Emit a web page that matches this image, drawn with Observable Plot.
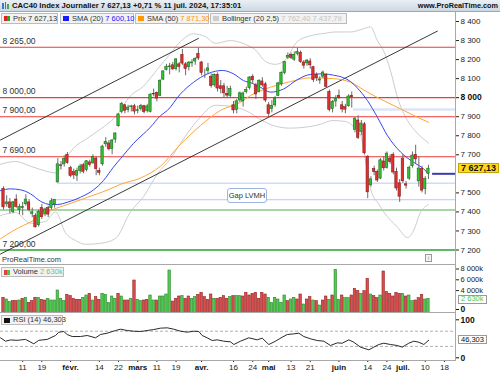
<!DOCTYPE html>
<html lang="fr"><head><meta charset="utf-8">
<script src="https://cdn.jsdelivr.net/npm/d3@7"></script>
<script src="https://cdn.jsdelivr.net/npm/@observablehq/plot@0.6"></script>
<style>
html,body{margin:0;padding:0;background:#fff;}
#root{position:relative;width:500px;height:375px;overflow:hidden;font-family:"Liberation Sans",Arial,sans-serif;color:#222;}
#root svg{position:absolute;left:0;}
.ov{position:absolute;white-space:nowrap;}
.lg{position:absolute;height:11px;box-sizing:border-box;border:1px solid #bcbcbc;background:#f2f2f2;font-size:7.5px;line-height:9px;padding-left:11px;white-space:nowrap;color:#333;}
.sw{position:absolute;left:2px;top:2px;width:6px;height:5px;}
.vb{position:absolute;box-sizing:border-box;border:1px solid #9a9a9a;background:#fff;font-size:7.5px;line-height:7px;height:9px;padding:0 2px;white-space:nowrap;}
.hl{position:absolute;background:#a8a8a8;}
</style></head>
<body><div id="root"></div>
<script>
// ---------------- DATA ----------------
// trading-day index 0 = 3 Jan 2024 ... 133 = 11 Jul 2024
const opens = [7520,7440,7450,7400,7465,7410,7420,7440,7450,7390,
7380,7330,7420,7390,7420,7420,7440,7555,7645,7650,
7700,7630,7610,7590,7615,7645,7620,7660,7655,7680,
7615,7650,7755,7760,7730,7780,7850,7925,7960,7935,
7950,7955,7930,7940,7955,7930,7925,8020,8025,8010,
8095,8145,8160,8170,8150,8175,8225,8175,8160,8180,
8190,8230,8185,8130,8140,8110,8065,8120,8060,8060,
8020,8010,7960,7935,7985,7980,8030,8050,8110,8065,
8030,8085,8070,7960,7940,7960,8010,8070,8130,8210,
8225,8200,8230,8235,8185,8180,8190,8160,8120,8090,
8110,8120,8030,7940,7980,8010,7960,7950,7955,8010,
7830,7880,7820,7860,7690,7540,7625,7610,7575,7665,
7630,7680,7700,7610,7550,7680,7545,7575,7640,7700,
7560,7625,7520,7600];
const highs = [7532,7485,7470,7455,7490,7440,7450,7490,7465,7420,
7390,7410,7440,7420,7430,7470,7464,7680,7665,7695,
7712,7640,7625,7630,7650,7655,7670,7672,7700,7690,
7630,7750,7790,7775,7780,7815,7915,7975,7965,7960,
7960,7965,7955,7965,7960,7965,8020,8045,8030,8095,
8140,8175,8180,8185,8205,8185,8253,8185,8190,8200,
8210,8260,8190,8150,8180,8125,8125,8130,8090,8075,
8060,8060,7980,7990,8030,8030,8055,8110,8120,8075,
8095,8105,8080,7975,7985,8005,8080,8135,8190,8235,
8235,8240,8259,8245,8195,8200,8205,8165,8130,8110,
8140,8125,8040,7985,8010,8040,7980,7965,8015,8030,
7895,7905,7880,7870,7695,7585,7640,7620,7680,7690,
7715,7700,7710,7630,7570,7700,7560,7640,7715,7750,
7690,7640,7585,7645];
const lows = [7410,7425,7390,7390,7420,7385,7380,7430,7400,7370,
7316,7320,7360,7375,7370,7410,7420,7551,7620,7635,
7650,7580,7570,7560,7600,7600,7610,7635,7650,7590,
7590,7640,7740,7720,7700,7760,7845,7915,7915,7920,
7925,7910,7915,7930,7915,7920,7920,8005,7978,8005,
8090,8140,8120,8145,8140,8130,8170,8115,8140,8160,
8170,8195,8115,8100,8120,8050,8055,8030,8020,8000,
7995,8000,7915,7915,7975,7950,8020,8040,8070,7990,
8025,8055,7975,7900,7920,7950,8005,8060,8120,8200,
8200,8190,8220,8180,8150,8165,8150,8080,8085,8070,
8100,8050,7925,7920,7950,7990,7920,7915,7950,7945,
7815,7780,7800,7700,7470,7530,7590,7555,7570,7615,
7625,7650,7595,7510,7450,7550,7520,7565,7630,7650,
7530,7500,7490,7570];
const closes = [7424,7450,7421,7450,7426,7426,7425,7465,7411,7398,
7319,7401,7372,7413,7386,7456,7464,7650,7641,7677,
7657,7589,7592,7615,7638,7611,7666,7647,7689,7625,
7605,7743,7768,7729,7775,7812,7912,7967,7930,7948,
7954,7927,7934,7956,7924,7954,8016,8017,7995,8088,
8138,8161,8164,8148,8201,8161,8179,8151,8184,8185,
8204,8206,8130,8130,8154,8061,8119,8048,8045,8023,
8011,8045,7933,7981,8023,8022,8040,8106,8091,8017,
8088,8065,7985,7915,7957,7996,8075,8131,8187,8219,
8209,8225,8240,8188,8168,8195,8170,8092,8102,8095,
8132,8057,7935,7978,7993,7998,7938,7937,8006,8002,
7890,7789,7864,7708,7503,7571,7610,7565,7671,7629,
7706,7662,7607,7523,7480,7561,7538,7632,7696,7676,
7628,7512,7573,7627.13];
// volume in thousands, and bar colour (1 = green, 0 = red)
const volumes = [2809,2500,2006,2191,2191,2315,2623,2809,1883,2191,
2809,2809,2438,2315,2623,2315,2315,4167,2623,2191,
3364,3117,2623,2438,2438,2809,3241,3549,2315,2932,
2438,3549,3364,1821,3056,2623,3549,3056,2315,2315,
2623,6018,2438,2191,2315,2438,3241,2315,2315,3056,
3056,3426,7870,2130,2623,3056,3117,2623,3056,2623,
2932,3364,3735,2932,2438,3426,2623,2623,2809,3117,
2623,2932,3117,3117,3117,3056,3735,3241,3549,3735,
2623,3735,3426,2809,1821,2809,2500,1883,3241,2191,
2500,2809,2500,3426,1574,2500,2932,2315,2191,1389,
2315,3056,2438,3241,8000,2438,3241,2747,2747,3241,
4475,4043,3549,4043,6327,3426,3117,2747,3241,7685,
3858,3549,3056,3735,3549,3549,3056,3241,2191,2315,
2747,3364,2500,2630];
const volUp = [0,1,1,0,0,1,0,1,0,0, 0,1,0,0,1,1,1,1,1,1, 0,0,0,0,0,1,1,0,1,0,
0,1,1,1,1,1,0,1,0,0, 1,0,1,1,0,0,1,1,0,1, 1,1,1,0,0,0,1,0,0,1,
1,0,0,0,0,0,1,0,0,0, 0,1,0,1,1,0,0,0,0,0, 0,0,0,1,1,1,1,1,1,0,
1,1,0,0,1,0,0,1,0,1, 0,0,1,0,1,1,0,1,1,0, 0,0,1,0,0,1,0,0,1,0,
0,0,0,0,0,1,0,1,1,0, 0,0,1,1];
// indicators: [day index, value]
const sma20 = [[-0.94,7512],[2.19,7521],[5.32,7516],[8.45,7495],[11.58,7456],[14.71,7439],[16.9,7439],[20.03,7451],[24.1,7477],[28.2,7516],[31.3,7565],[34.4,7635],[36.6,7679],[40.7,7760],[46,7845],[49.1,7905],[51.3,7933],[55.4,8020],[59.5,8081],[63.8,8125],[66.4,8139],[68.5,8143],[72,8125],[75.1,8090],[77.9,8075],[80.4,8055],[83.6,8029],[87.6,8045],[92,8095],[96.1,8122],[100.2,8125],[103.3,8118],[106.4,8105],[108.6,8085],[110.8,8050],[113.9,7985],[117.1,7895],[120.2,7800],[124.3,7714],[128.3,7661],[131.5,7626],[133,7600]];
const sma50 = [[-0.94,7259],[3.1,7302],[9.4,7355],[14.7,7407],[20,7439],[26.3,7477],[32.6,7515],[36.6,7545],[42.9,7578],[49.1,7640],[55.4,7755],[61.7,7854],[67.9,7933],[74.2,7976],[77.3,8011],[83.6,8055],[89.8,8084],[96.1,8104],[103.3,8100],[108.6,8081],[113.9,8029],[118.9,7985],[124.3,7941],[129.6,7897],[133,7871]];
const bbUpper = [[-0.94,7650],[3.76,7665],[8.45,7640],[13.15,7615],[16.28,7605],[19.41,7680],[22.54,7745],[25.67,7780],[30.36,7835],[35.05,7900],[39.75,8010],[43.82,8060],[48.2,8150],[52.27,8232],[55.4,8295],[59.47,8335],[63.22,8320],[66.35,8285],[71,8300],[75.7,8280],[78.9,8250],[82,8190],[85.1,8175],[88,8195],[92,8295],[96.1,8325],[100.2,8337],[104,8345],[108.6,8345],[112.7,8362],[114.9,8372],[117,8300],[118.9,8248],[121.1,8143],[123.3,8001],[126.45,7880],[129.6,7812],[133,7762]];
const bbLower = [[-0.94,7381],[3.76,7397],[8.45,7340],[13.15,7350],[16.28,7400],[19.41,7290],[22.54,7250],[25.67,7230],[30.36,7235],[35.05,7260],[39.75,7400],[43.82,7480],[48.2,7600],[52.27,7680],[55.4,7760],[60.7,7880],[66.35,7960],[71.05,7955],[75.74,7933],[81,7880],[85.13,7850],[89.8,7840],[94.5,7845],[99.2,7860],[103,7880],[107,7875],[110.2,7835],[112,7790],[113,7700],[114,7600],[115,7515],[117.5,7440],[119,7400],[123.3,7320],[126.45,7265],[128.3,7300],[130.5,7397],[133,7438]];
const rsiIdx = [-0.94,0.63,2.19,4.29,6.89,9.48,11.05,13.68,16.28,17.31,18.87,19.94,21.5,24.1,26.2,28.8,30.36,32.46,35.05,36.62,38.72,40.78,42.88,44.98,47.04,49.14,51.24,53.3,55.4,57.5,59.56,61.13,62.19,63.76,65.32,66.89,68.95,71.05,72.08,74.18,76.78,79.4,80.97,83.04,85.13,87.23,88.8,90.86,92.43,93.99,96.09,98.18,100.25,102.35,104.45,106,108.08,109.64,111.74,114.34,115.9,117.47,119.03,121.13,123.22,124.79,126.85,128.42,129.98,131.55,133.1];
const rsiVal = [52.6,43.7,47,46,48.5,36.8,46,48.5,58.7,67.4,69.2,61.3,56,56,58.7,52.6,61.3,64.8,71.8,75.3,71.8,70,69.2,71.8,74.4,78,78.9,75.3,70,67.4,70,69.2,58.7,52.6,45.5,47.3,43.7,42,35,43.7,52.6,47.3,51.7,35,43.7,54.2,61.3,63,64.8,56,50,45.5,43.7,32.4,39.3,38.4,47.3,41,28,21,28,35,38.4,35,32.4,28,38.4,43.7,41,35,46.3];
// drawn annotations
const redLevels = [8265, 8000, 7900, 7690];
const labelLevels = [8265, 8000, 7900, 7690, 7200];
const supportLevel = 7410;
const baseLevel = 7200;
const gapLvmh = [[15, 7464], [17, 7551]];   // [start index, level]
const gapJune = [[109.5, 7938]];
const trendUpper = [[-0.94, 7777.6], [61.0, 8311.2]];
const trendLower = [[-0.94, 7178.9], [135.8, 8349.6]];
const sma20Last = 7600.10, sma20SegFrom = 134.3;
const sma50Last = 7871.30, bbUpLast = 7762.40, bbLowLast = 7437.79;
const lastPrice = 7627.13, lastVolume = 2630, lastRsi = 46.303, changePct = 0.71;
const priceTicks = [7200,7300,7400,7500,7700,7800,7900,8100,8200,8300,8400];
const priceBoldTicks = [8000];
const volTicks = [4000, 6000, 8000];
const rsiTicks = [0, 100];
const rsiBands = [30, 70];
const tickIdx = [6,12,21,30,36,42,48,54,62,72,78,83,90,96,105,114,120,125,132,138];
const tickLbl = ["11","19","févr.","14","22","mars","11","19","avr.","16","24","mai","13","21","juin","14","24","juil.","10","18"];
const tickIsMonth = [0,0,1,0,0,1,0,0,1,0,0,1,0,0,1,0,0,1,0,0];

// ---------------- DRAWING ----------------
const root = document.getElementById("root");
const fr = d3.formatLocale({decimal: ",", thousands: "\u00a0", grouping: [3], currency: ["", "€"]});
const f0 = fr.format(",.0f"), f2 = fr.format(",.2f"), f3 = fr.format(",.3f");
const FONT = "Liberation Sans, Arial, sans-serif";
const W = 500, MR = 45;
const xDom = [-0.94, 141.47];
const style = {fontFamily: FONT, fontSize: "8px", background: "transparent", overflow: "visible"};
const candles = closes.map((c, i) => ({i, o: opens[i], h: highs[i], l: lows[i], c}));
const isUp = d => d.c >= d.o;
const vols = volumes.map((v, i) => ({i, v, u: volUp[i]}));
const lblOf = new Map(tickIdx.map((t, k) => [t, tickLbl[k]]));
const xEnd = () => xDom[1];

const pricePlot = Plot.plot({
  width: W, height: 253, marginLeft: 0, marginRight: MR, marginTop: 0, marginBottom: 0,
  style, x: {domain: xDom, axis: null}, y: {domain: [7118.6, 8447.3], axis: null},
  color: {type: "identity"},
  marks: [
    Plot.line(bbUpper, {stroke: "#cdcdcd", strokeWidth: 1, curve: "monotone-x", clip: true}),
    Plot.line(bbLower, {stroke: "#cdcdcd", strokeWidth: 1, curve: "monotone-x", clip: true}),
    Plot.ruleY(redLevels, {stroke: "#ee3a3a", strokeWidth: 1.1}),
    Plot.ruleY([supportLevel], {stroke: "#a6d5a6", strokeWidth: 2.2}),
    Plot.ruleY([baseLevel], {stroke: "#2f9e2f", strokeWidth: 1.5}),
    Plot.ruleY(gapLvmh, {y: d => d[1], x1: d => d[0], x2: xEnd, stroke: "#b8caee", strokeWidth: 1}),
    Plot.ruleY(gapJune, {y: d => d[1], x1: d => d[0], x2: xEnd, stroke: "#dce5f7", strokeWidth: 2.6}),
    Plot.line(trendUpper, {stroke: "#222", strokeWidth: 0.9, clip: true}),
    Plot.line(trendLower, {stroke: "#222", strokeWidth: 0.9, clip: true}),
    Plot.line(sma50, {stroke: "#ffa533", strokeWidth: 1, curve: "monotone-x", clip: true}),
    Plot.line(sma20, {stroke: "#3846f0", strokeWidth: 1, curve: "monotone-x", clip: true}),
    Plot.ruleX(candles, {x: "i", y1: "l", y2: "h", stroke: "#6a6a6a", strokeWidth: 1}),
    Plot.rect(candles, {x1: d => d.i - 0.37, x2: d => d.i + 0.37, y1: "o", y2: "c",
      fill: d => isUp(d) ? "#33c133" : "#e22e2e", stroke: d => isUp(d) ? "#1d6b1d" : "#8a1b1b", strokeWidth: 0.6}),
    Plot.ruleY([sma20Last], {x1: () => sma20SegFrom, x2: xEnd, stroke: "#3b3bb0", strokeWidth: 2}),
    Plot.text(labelLevels, {y: d => d, text: d => f2(d), frameAnchor: "left", dx: 2, dy: -6, textAnchor: "start", fontSize: 8.5, fill: "#333"}),
    Plot.axisY(priceTicks, {anchor: "right", tickFormat: f0, tickSize: 3, tickPadding: 2, fontSize: 8, color: "#222", label: null}),
    Plot.axisY(priceBoldTicks, {anchor: "right", tickFormat: f0, tickSize: 3, tickPadding: 2, fontSize: 8.5, fontWeight: "bold", color: "#111", label: null})
  ]
});

const volPlot = Plot.plot({
  width: W, height: 48, marginLeft: 0, marginRight: MR, marginTop: 0, marginBottom: 0,
  style, x: {domain: xDom, axis: null}, y: {domain: [-92.6, 8796], axis: null},
  color: {type: "identity"},
  marks: [
    Plot.rect(vols, {x1: d => d.i - 0.38, x2: d => d.i + 0.38, y1: () => 0, y2: "v",
      fill: d => d.u ? "#4fcb4f" : "#d94d4d", stroke: d => d.u ? "#2a862a" : "#962323", strokeWidth: 0.6}),
    Plot.axisY(volTicks, {anchor: "right", tickFormat: v => f0(v) + "k", tickSize: 3, tickPadding: 2, fontSize: 7.5, color: "#222", dy: -0.8, label: null}),
    Plot.axisY([0], {anchor: "right", tickFormat: v => f0(v), tickSize: 3, tickPadding: 2, fontSize: 8.5, fontWeight: "bold", color: "#111", dy: -3.5, label: null})
  ]
});

const rsiPlot = Plot.plot({
  width: W, height: 62, marginLeft: 0, marginRight: MR, marginTop: 0, marginBottom: 15,
  style, x: {domain: xDom, axis: null}, y: {domain: [-7.1, 116.6], axis: null},
  marks: [
    Plot.ruleY(rsiBands, {stroke: "#b0b0b0", strokeDasharray: "3,2"}),
    Plot.line(rsiIdx.map((i, k) => [i, rsiVal[k]]), {stroke: "#2a2a2a", strokeWidth: 1, clip: true}),
    Plot.axisY(rsiTicks, {anchor: "right", tickFormat: d => String(d), tickSize: 3, tickPadding: 2, fontSize: 8.5, fontWeight: "bold", color: "#111", label: null}),
    Plot.axisX(tickIdx.filter((t, k) => !tickIsMonth[k]), {anchor: "bottom", tickFormat: t => lblOf.get(t), tickSize: 2, tickPadding: 2, fontSize: 8, color: "#222", label: null}),
    Plot.axisX(tickIdx.filter((t, k) => tickIsMonth[k]), {anchor: "bottom", tickFormat: t => lblOf.get(t), tickSize: 2, tickPadding: 2, fontSize: 8, fontWeight: "bold", color: "#111", label: null})
  ]
});

function put(el, top) { el.style.top = top + "px"; root.appendChild(el); }
put(pricePlot, 12); put(volPlot, 265); put(rsiPlot, 313);

function div(cls, css, html) { const d = document.createElement("div"); if (cls) d.className = cls; d.style.cssText = css; d.innerHTML = html || ""; root.appendChild(d); return d; }

// panel borders
div("hl", "left:455px;top:12px;width:1px;height:349px;");
div("hl", "left:0;top:264px;width:456px;height:1px;");
div("hl", "left:0;top:312px;width:456px;height:1px;");
div("hl", "left:0;top:360px;width:456px;height:1px;");

// title bar
const titleText = `CAC40 Index Journalier ${f2(lastPrice)} +${fr.format(",.2f")(changePct)} % 11 juil. 2024, 17:35:01`;
div("ov", "left:0;top:0;width:500px;height:12px;background:linear-gradient(#eaf0f5,#ccd8e2);border-bottom:1px solid #98a9b6;box-sizing:border-box;",
  `<span style="position:absolute;left:2px;top:3px;width:1.5px;height:6px;background:#3b78c8"></span>
   <span style="position:absolute;left:4.5px;top:1.5px;width:1.5px;height:7.5px;background:#3b78c8"></span>
   <span style="position:absolute;left:7px;top:4px;width:1.5px;height:5px;background:#49a84a"></span>
   <span style="position:absolute;left:12px;top:0;font-weight:bold;font-size:7.7px;line-height:11px;color:#111">${titleText}</span>
   <span style="position:absolute;right:2px;top:0;font-weight:bold;font-size:7.3px;line-height:11px;color:#111">www.ProRealTime.com</span>`);

// price legend row
div("lg", "left:1px;top:13px;width:57px;", `<span class="sw" style="background:linear-gradient(90deg,#d22 50%,#2a2 50%)"></span>Prix ${f2(lastPrice)}`);
div("lg", "left:60px;top:13px;width:74px;", `<span class="sw" style="background:#1a1aff"></span>SMA (20) <span style="color:#1a1aff">${f2(sma20Last)}</span>`);
div("lg", "left:135px;top:13px;width:74px;", `<span class="sw" style="background:#ff9900"></span>SMA (50) <span style="color:#ff9900">${f2(sma50Last)}</span>`);
div("lg", "left:210px;top:13px;width:137px;", `<span class="sw" style="background:#cccccc"></span>Bollinger (20 2,5) <span style="color:#c4c4c4">${f2(bbUpLast)} ${f2(bbLowLast)}</span>`);

// other legends
div("lg", "left:1px;top:267px;width:63px;height:10px;line-height:8px;", `<span class="sw" style="top:1.5px;background:linear-gradient(90deg,#d44 50%,#4c4 50%)"></span>Volume <span style="color:#66cc66">${f0(lastVolume)}k</span>`);
div("lg", "left:1px;top:315px;width:62px;height:10px;line-height:8px;", `<span class="sw" style="top:1.5px;background:#111"></span>RSI (14) ${f3(lastRsi)}`);

// watermark + info icon
div("ov", "left:2px;top:255px;font-size:7.4px;line-height:9px;color:#333;", "ProRealTime.com");
div("ov", "left:425px;top:254px;width:5px;height:6px;border:1px solid #999;font-size:5px;line-height:6px;text-align:center;color:#777;background:#f4f4f4;", "i");

// Gap LVMH annotation
div("ov", "left:227px;top:188px;width:40px;height:15px;box-sizing:border-box;border:1px solid #9db5e3;border-radius:3px;background:#fff;font-size:7.5px;line-height:13px;text-align:center;color:#333;", "Gap LVMH");

// right-axis value boxes (positioned through the plots' scales)
const yP = pricePlot.scale("y").apply(lastPrice) + 12;
div("vb", `left:458px;top:${yP - 5}px;width:41px;height:10px;line-height:8px;background:#ffd91c;border-color:#c6a300;font-weight:bold;font-size:9px;color:#111;`, f2(lastPrice));
const yV = volPlot.scale("y").apply(lastVolume) + 265;
div("vb", `left:458px;top:${yV - 2.8}px;height:8.5px;line-height:6.5px;color:#55c455;`, f0(lastVolume) + "k");
const yR = rsiPlot.scale("y").apply(lastRsi) + 313;
div("vb", `left:458px;top:${yR - 4.5}px;color:#111;`, f3(lastRsi));
</script></body></html>
